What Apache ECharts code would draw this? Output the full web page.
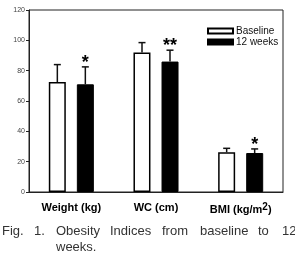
<!DOCTYPE html>
<html>
<head>
<meta charset="utf-8">
<script src="https://cdn.jsdelivr.net/npm/echarts@6/dist/echarts.min.js"></script>
<style>
  html, body { margin: 0; padding: 0; background: #fff; }
  #main { width: 295px; height: 257px; }
</style>
</head>
<body>
<div id="main"></div>
<script>
const categories = ['Weight (kg)', 'WC (cm)', 'BMI (kg/m{sup|2})'];
const baseline = [72.5, 92, 26.2];
const baselineTop = [84, 98.5, 28.8];   // upper end of error bar
const weeks12 = [71, 86, 25.7];
const weeks12Top = [82.5, 93.5, 28.4];
const signif = ['*', '**', '*'];        // marks over 12 weeks bars
const yTicks = [0, 20, 40, 60, 80, 100, 120];
const captionLine1 = ['Fig.', '1.', 'Obesity', 'Indices', 'from', 'baseline', 'to', '12'];
const captionLine2 = 'weeks.';

const BAR_W = 17;
const OFFSET = 14;

const errData = (vals, tops, side) =>
  vals.map((v, i) => [i, v, tops[i], side]);

const renderErr = (params, api) => {
  const i = api.value(0);
  const side = api.value(3);
  const base = api.coord([i, api.value(1)]);
  const top = api.coord([i, api.value(2)]);
  const x = base[0] + side * OFFSET;
  const children = [
    { type: 'line', shape: { x1: x, y1: base[1], x2: x, y2: top[1] }, style: { stroke: '#111', lineWidth: 1.5 } },
    { type: 'line', shape: { x1: x - 3.5, y1: top[1], x2: x + 3.5, y2: top[1] }, style: { stroke: '#111', lineWidth: 1.5 } },
  ];
  if (side > 0) {
    children.push({
      type: 'text',
      style: {
        text: signif[i], x: x, y: top[1] + 5,
        align: 'center', verticalAlign: 'bottom',
        font: 'bold 18px "Liberation Sans", Arial, sans-serif', fill: '#000',
      },
    });
  }
  return { type: 'group', children };
};

// caption words, justified by hand like the source
const captionX = [2, 34, 56, 110, 162, 200, 258, 282];

const chart = echarts.init(document.getElementById('main'));
chart.setOption({
  animation: false,
  grid: {
    left: 29, right: 12, top: 10, bottom: 65,
    show: true, borderColor: '#222', borderWidth: 1,
  },
  legend: {
    orient: 'vertical',
    left: 202, top: 21,
    itemWidth: 25, itemHeight: 5,
    itemGap: 1,
    icon: 'rect',
    textStyle: { fontSize: 10, color: '#111', fontFamily: '"Liberation Sans", Arial, sans-serif', padding: [0, 0, 0, -2] },
    data: ['Baseline', '12 weeks'],
  },
  xAxis: {
    type: 'category',
    data: categories,
    axisTick: { show: false },
    axisLine: { lineStyle: { color: '#222', width: 1 } },
    axisLabel: {
      interval: 0,
      margin: 10,
      fontSize: 11, fontWeight: 'bold', color: '#000',
      fontFamily: '"Liberation Sans", Arial, sans-serif',
      rich: { sup: { fontSize: 10, fontWeight: 'bold', color: '#000', verticalAlign: 'top', padding: [0, 0, 6, 0] } },
    },
  },
  yAxis: {
    type: 'value',
    min: yTicks[0], max: yTicks[yTicks.length - 1], interval: 20,
    splitLine: { show: false },
    axisLine: { show: true, lineStyle: { color: '#222', width: 1 } },
    axisTick: { show: true, length: 3, lineStyle: { color: '#222' } },
    axisLabel: { fontSize: 7, color: '#444', margin: 4, fontFamily: '"Liberation Sans", Arial, sans-serif' },
  },
  series: [
    {
      name: 'Baseline', type: 'bar', data: baseline,
      barWidth: BAR_W, barGap: '65%',
      itemStyle: { color: '#fff', borderColor: '#000', borderWidth: 1.5 },
    },
    {
      name: '12 weeks', type: 'bar', data: weeks12,
      barWidth: BAR_W, barGap: '65%',
      itemStyle: { color: '#000', borderColor: '#000', borderWidth: 1 },
    },
    {
      type: 'custom', renderItem: renderErr, z: 5,
      data: errData(baseline, baselineTop, -1),
    },
    {
      type: 'custom', renderItem: renderErr, z: 5,
      data: errData(weeks12, weeks12Top, 1),
    },
  ],
  graphic: captionLine1.map((w, i) => ({
    type: 'text', left: captionX[i], top: 225,
    style: { text: w, font: '13px "Liberation Sans", Arial, sans-serif', fill: '#333' },
  })).concat([{
    type: 'text', left: 56, top: 241,
    style: { text: captionLine2, font: '13px "Liberation Sans", Arial, sans-serif', fill: '#333' },
  }]),
});
</script>
</body>
</html>
